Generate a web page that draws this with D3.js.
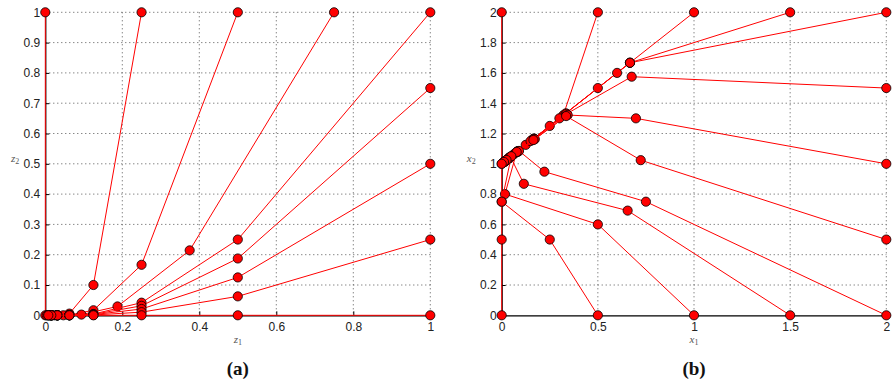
<!DOCTYPE html>
<html>
<head>
<meta charset="utf-8">
<script src="https://cdn.jsdelivr.net/npm/d3@7"></script>
<style>
  body { margin: 0; background: #fff; }
  .tick-label { font-family: "Liberation Sans", Arial, sans-serif; font-size: 12px; fill: #222; }
  .axis-name { font-family: "Liberation Serif", "DejaVu Serif", serif; font-style: italic; font-size: 11px; fill: #555; }
  .panel-name { font-family: "Liberation Serif", "DejaVu Serif", serif; font-weight: bold; font-size: 19px; fill: #111; }
</style>
</head>
<body>
<div id="visualization"></div>
<script>
// --- Data: trajectories ---
// panel (a): z-space
const pathsA = [
  [[0, 1], [0, 0]],
  [[0.25, 1], [0.125, 0.1], [0.0625, 0.0056], [0.03125, 0.0002], [0.0156, 0], [0.0078, 0], [0.0039, 0]],
  [[0.5, 1], [0.25, 0.1667], [0.125, 0.0167], [0.0625, 0.0009], [0.03125, 0], [0.0156, 0], [0.0078, 0]],
  [[0.75, 1], [0.375, 0.2143], [0.1875, 0.0292], [0.0938, 0.0023], [0.0469, 0.0001], [0.0234, 0], [0.0117, 0]],
  [[1, 1], [0.5, 0.25], [0.25, 0.0417], [0.125, 0.0042], [0.0625, 0.0002], [0.03125, 0], [0.0156, 0]],
  [[1, 0.75], [0.5, 0.1875], [0.25, 0.0313], [0.125, 0.0031], [0.0625, 0.0002], [0.03125, 0], [0.0156, 0]],
  [[1, 0.5], [0.5, 0.125], [0.25, 0.0208], [0.125, 0.0021], [0.0625, 0.0001], [0.03125, 0], [0.0156, 0]],
  [[1, 0.25], [0.5, 0.0625], [0.25, 0.0104], [0.125, 0.001], [0.0625, 0], [0.03125, 0], [0.0156, 0]],
  [[1, 0], [0.5, 0], [0.25, 0], [0.125, 0], [0.0625, 0], [0.03125, 0], [0.0156, 0], [0.0078, 0]]
];
// panel (b): x-space
const pathsB = [
  [[0, 2], [0, 1]],
  [[0.5, 2], [0.32, 1.32], [0.16, 1.16], [0.08, 1.08], [0.04, 1.04], [0.02, 1.02], [0.01, 1.01]],
  [[1, 2], [0.667, 1.667], [0.333, 1.333], [0.167, 1.167], [0.083, 1.083], [0.042, 1.042], [0.021, 1.021]],
  [[1.5, 2], [0.667, 1.667], [0.5, 1.5], [0.25, 1.25], [0.125, 1.125], [0.0625, 1.0625], [0.031, 1.031]],
  [[2, 2], [0.667, 1.667], [0.6, 1.6], [0.3, 1.3], [0.15, 1.15], [0.075, 1.075], [0.038, 1.038]],
  [[2, 1.5], [0.676, 1.575], [0.338, 1.33], [0.169, 1.165], [0.085, 1.083], [0.042, 1.042], [0.021, 1.021]],
  [[2, 1], [0.698, 1.3], [0.343, 1.322], [0.172, 1.162], [0.086, 1.081], [0.043, 1.041], [0.021, 1.02]],
  [[2, 0.5], [0.723, 1.024], [0.335, 1.315], [0.165, 1.157], [0.083, 1.079], [0.041, 1.04], [0.02, 1.02]],
  [[2, 0], [0.75, 0.75], [0.222, 0.948], [0.09, 1.085], [0.045, 1.045], [0.022, 1.022], [0.011, 1.011]],
  [[1.5, 0], [0.655, 0.691], [0.115, 0.868], [0.045, 1.047], [0.023, 1.023], [0.011, 1.011]],
  [[1, 0], [0.5, 0.6], [0.017, 0.8], [0.078, 1.078], [0.039, 1.039], [0.02, 1.02], [0.01, 1.01]],
  [[0.5, 0], [0.25, 0.5], [0, 0.75], [0.05, 1.05], [0.025, 1.025], [0.012, 1.012]],
  [[0, 0], [0, 0.5], [0, 0.75], [0, 1]]
];
// tick values
const ticksAX = [0, 0.2, 0.4, 0.6, 0.8, 1];
const ticksAY = [0, 0.1, 0.2, 0.3, 0.4, 0.5, 0.6, 0.7, 0.8, 0.9, 1];
const ticksBX = [0, 0.5, 1, 1.5, 2];
const ticksBY = [0, 0.2, 0.4, 0.6, 0.8, 1, 1.2, 1.4, 1.6, 1.8, 2];

// --- Layout ---
const SVG_WIDTH = 894;
const SVG_HEIGHT = 384;
const PANELS = [
  { paths: pathsA, ticksX: ticksAX, ticksY: ticksAY, xMax: 1, yMax: 1,
    left: 45.3, right: 430.3, xName: "z", yName: "z", label: "(a)" },
  { paths: pathsB, ticksX: ticksBX, ticksY: ticksBY, xMax: 2, yMax: 2,
    left: 501.7, right: 886.3, xName: "x", yName: "x", label: "(b)" }
];
const TOP = 12.3;
const BOTTOM = 315.3;

const svg = d3.select("#visualization")
  .append("svg")
  .attr("width", SVG_WIDTH)
  .attr("height", SVG_HEIGHT)
  .style("display", "block");

svg.append("rect").attr("width", SVG_WIDTH).attr("height", SVG_HEIGHT).attr("fill", "#fff");

PANELS.forEach(drawPanel);

function drawPanel(p) {
  const x = d3.scaleLinear().domain([0, p.xMax]).range([p.left, p.right]);
  const y = d3.scaleLinear().domain([0, p.yMax]).range([BOTTOM, TOP]);
  const g = svg.append("g");

  // dotted grid
  g.append("g").selectAll("line").data(p.ticksX.filter(d => d > 0)).join("line")
    .attr("x1", d => x(d)).attr("x2", d => x(d))
    .attr("y1", TOP).attr("y2", BOTTOM)
    .attr("stroke", "#555").attr("stroke-width", 1).attr("stroke-dasharray", "1,3");
  g.append("g").selectAll("line").data(p.ticksY.filter(d => d > 0)).join("line")
    .attr("x1", p.left).attr("x2", p.right)
    .attr("y1", d => y(d)).attr("y2", d => y(d))
    .attr("stroke", "#555").attr("stroke-width", 1).attr("stroke-dasharray", "1,3");

  // axes
  const fmt = d3.format("~g");
  const xAxis = g.append("g")
    .attr("transform", `translate(0,${BOTTOM})`)
    .call(d3.axisBottom(x).tickValues(p.ticksX).tickSize(-4).tickPadding(7).tickFormat(fmt));
  const yAxis = g.append("g")
    .attr("transform", `translate(${p.left},0)`)
    .call(d3.axisLeft(y).tickValues(p.ticksY).tickSize(-4).tickPadding(5).tickFormat(fmt));
  [xAxis, yAxis].forEach(a => {
    a.attr("font-size", null).attr("font-family", null);
    a.select(".domain").attr("stroke", "#000").attr("stroke-width", 1.2);
    a.selectAll(".tick line").attr("stroke", "#000");
    a.selectAll(".tick text").attr("class", "tick-label");
  });

  // trajectories
  const line = d3.line().x(d => x(d[0])).y(d => y(d[1]));
  p.paths.forEach(path => {
    g.append("path").datum(path)
      .attr("d", line)
      .attr("fill", "none")
      .attr("stroke", "#ff0000")
      .attr("stroke-width", 1);
    g.append("g").selectAll("circle").data(path).join("circle")
      .attr("cx", d => x(d[0])).attr("cy", d => y(d[1]))
      .attr("r", 4.6)
      .attr("fill", "#ff0000")
      .attr("stroke", "#000")
      .attr("stroke-width", 0.8);
  });

  // axis names
  const cx = (p.left + p.right) / 2;
  const xl = g.append("text").attr("class", "axis-name")
    .attr("x", cx).attr("y", 343).attr("text-anchor", "middle");
  xl.append("tspan").text(p.xName);
  xl.append("tspan").attr("font-size", 8).attr("dy", 2).attr("font-style", "normal").text("1");
  const yl = g.append("text").attr("class", "axis-name")
    .attr("x", p.left - 26).attr("y", 162).attr("text-anchor", "end");
  yl.append("tspan").text(p.yName);
  yl.append("tspan").attr("font-size", 8).attr("dy", 2).attr("font-style", "normal").text("2");

  // panel label
  g.append("text").attr("class", "panel-name")
    .attr("x", cx).attr("y", 375).attr("text-anchor", "middle")
    .text(p.label);
}
</script>
</body>
</html>
